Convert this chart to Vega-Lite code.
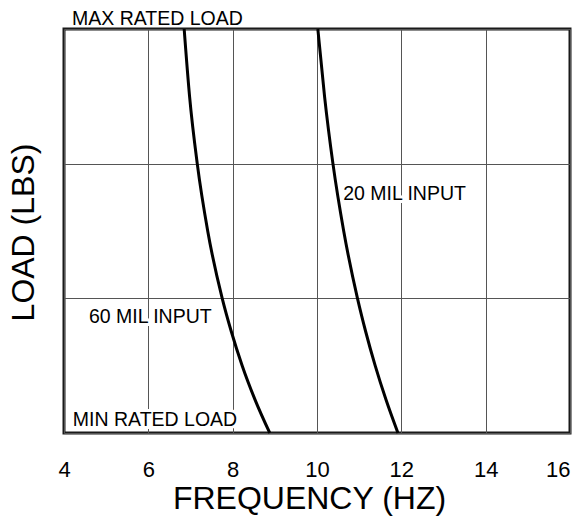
{
  "$schema": "https://vega.github.io/schema/vega-lite/v6.json",
  "width": 506,
  "height": 404,
  "autosize": {"type": "none"},
  "padding": {"left": 64, "top": 29, "right": 15, "bottom": 90},
  "background": "white",
  "config": {
    "view": {"stroke": "#1a1a1a", "strokeWidth": 3},
    "font": "Liberation Sans"
  },
  "datasets": {
    "curves": [
      {"series": "60 MIL", "freq": 6.85, "load": 3.0},
      {"series": "60 MIL", "freq": 6.978, "load": 2.5},
      {"series": "60 MIL", "freq": 7.16, "load": 2.0},
      {"series": "60 MIL", "freq": 7.408, "load": 1.5},
      {"series": "60 MIL", "freq": 7.752, "load": 1.0},
      {"series": "60 MIL", "freq": 7.971, "load": 0.75},
      {"series": "60 MIL", "freq": 8.226, "load": 0.5},
      {"series": "60 MIL", "freq": 8.527, "load": 0.25},
      {"series": "60 MIL", "freq": 8.88, "load": 0.0},
      {"series": "20 MIL", "freq": 10.02, "load": 3.0},
      {"series": "20 MIL", "freq": 10.179, "load": 2.5},
      {"series": "20 MIL", "freq": 10.378, "load": 2.0},
      {"series": "20 MIL", "freq": 10.633, "load": 1.5},
      {"series": "20 MIL", "freq": 10.96, "load": 1.0},
      {"series": "20 MIL", "freq": 11.157, "load": 0.75},
      {"series": "20 MIL", "freq": 11.38, "load": 0.5},
      {"series": "20 MIL", "freq": 11.633, "load": 0.25},
      {"series": "20 MIL", "freq": 11.92, "load": 0.0}
    ],
    "labels": [
      {"label": "MAX RATED LOAD", "lx": 4.19, "ly": 3.03, "halo": false},
      {"label": "MIN RATED LOAD", "lx": 4.21, "ly": 0.052, "halo": true},
      {"label": "60 MIL INPUT", "lx": 4.59, "ly": 0.82, "halo": true},
      {"label": "20 MIL INPUT", "lx": 10.62, "ly": 1.73, "halo": true}
    ]
  },
  "layer": [
    {
      "data": {"name": "labels"},
      "transform": [{"filter": "datum.halo"}],
      "mark": {"type": "text", "fill": "white", "stroke": "white", "strokeWidth": 6, "align": "left", "baseline": "alphabetic", "fontSize": 19.5, "font": "Liberation Sans"},
      "encoding": {
        "x": {"field": "lx", "type": "quantitative"},
        "y": {"field": "ly", "type": "quantitative"},
        "text": {"field": "label"}
      }
    },
    {
      "data": {"name": "curves"},
      "mark": {"type": "line", "color": "black", "strokeWidth": 3, "interpolate": "monotone"},
      "encoding": {
        "x": {
          "field": "freq", "type": "quantitative",
          "scale": {"domain": [4, 16], "nice": false, "zero": false},
          "axis": {
            "values": [4, 6, 8, 10, 12, 14, 16],
            "grid": true, "gridColor": "#555", "gridWidth": 1,
            "domain": false, "ticks": false,
            "labelFontSize": 22, "labelPadding": 26, "labelColor": "black", "labelFont": "Liberation Sans",
            "labelFlush": false, "labelOverlap": false,
            "labelAlign": {"condition": {"test": "datum.value == 16", "value": "right"}, "value": "center"},
            "title": "FREQUENCY (HZ)", "titleFontSize": 32, "titleFontWeight": "normal", "titleColor": "black", "titleFont": "Liberation Sans",
            "titleX": 245, "titleY": 75, "titleBaseline": "alphabetic", "titleAlign": "center"
          }
        },
        "y": {
          "field": "load", "type": "quantitative",
          "scale": {"domain": [0, 3], "nice": false, "zero": false},
          "axis": {
            "values": [0, 1, 2, 3],
            "grid": true, "gridColor": "#555", "gridWidth": 1,
            "labels": false, "ticks": false, "domain": false,
            "title": "LOAD (LBS)", "titleFontSize": 32, "titleFontWeight": "normal", "titleColor": "black", "titleFont": "Liberation Sans",
            "titleAngle": -90, "titleX": -31, "titleY": 203, "titleBaseline": "alphabetic", "titleAlign": "center"
          }
        },
        "detail": {"field": "series"}
      }
    },
    {
      "data": {"name": "labels"},
      "mark": {"type": "text", "fill": "black", "align": "left", "baseline": "alphabetic", "fontSize": 19.5, "font": "Liberation Sans"},
      "encoding": {
        "x": {"field": "lx", "type": "quantitative"},
        "y": {"field": "ly", "type": "quantitative"},
        "text": {"field": "label"}
      }
    }
  ]
}
